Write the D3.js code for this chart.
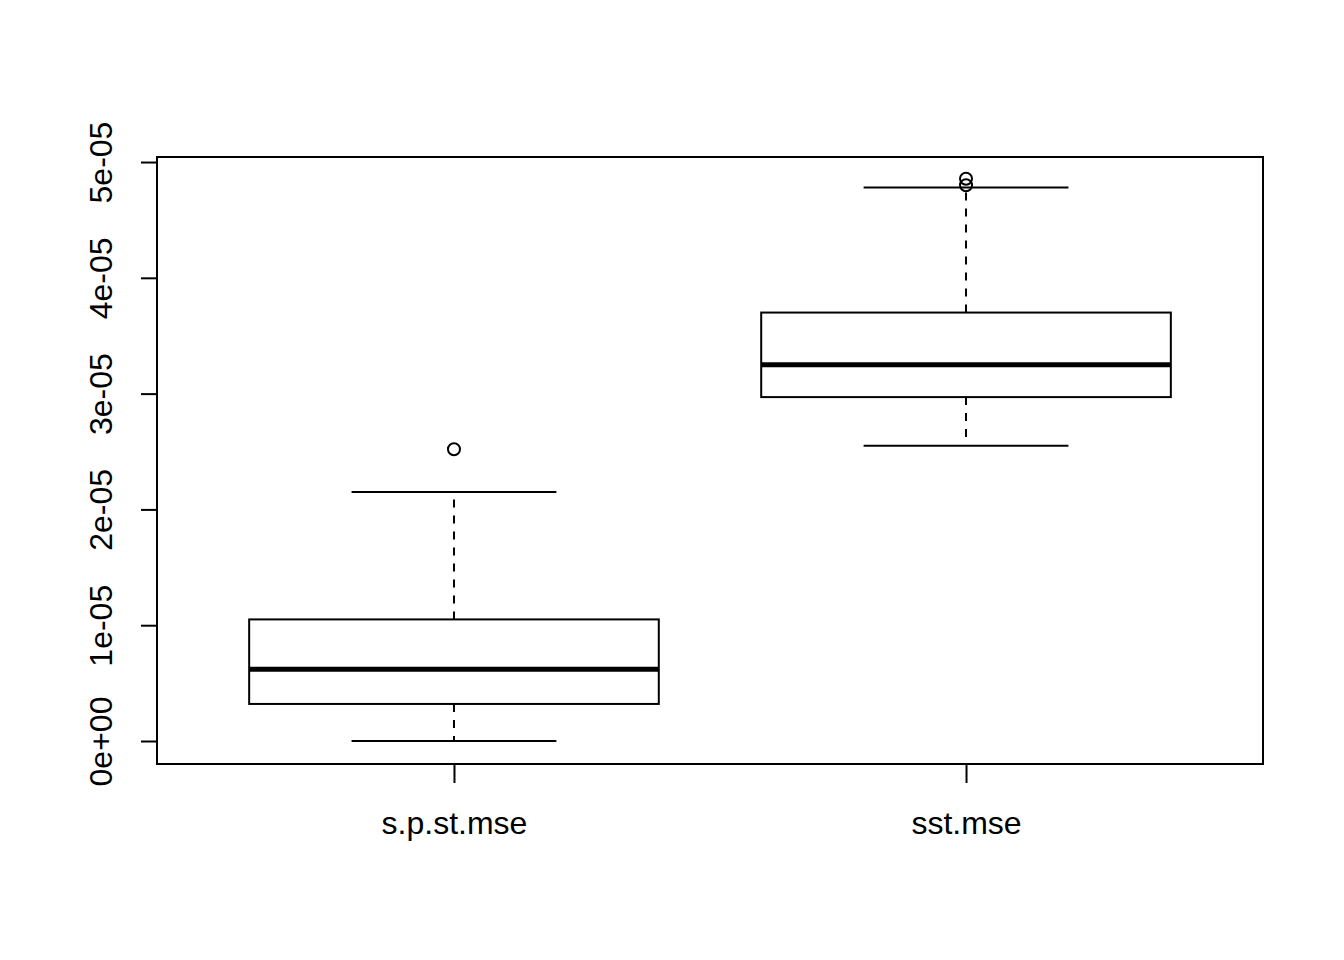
<!DOCTYPE html>
<html>
<head>
<meta charset="utf-8">
<script src="https://cdn.jsdelivr.net/npm/d3@7"></script>
<style>
  html, body { margin: 0; padding: 0; background: #ffffff; }
  svg { display: block; }
  text { font-family: "Liberation Sans", Arial, sans-serif; fill: #000; }
</style>
</head>
<body>
<svg id="chart" width="1344" height="960"></svg>
<script>
// ---- data ----
const categories = ["s.p.st.mse", "sst.mse"];
const whiskerLow  = [0.00e-05, 2.55e-05];
const q1          = [0.32e-05, 2.97e-05];
const median      = [0.62e-05, 3.25e-05];
const q3          = [1.05e-05, 3.70e-05];
const whiskerHigh = [2.15e-05, 4.78e-05];
const outliers    = [[2.52e-05], [4.80e-05, 4.855e-05]];
const yTicks      = [0, 1e-05, 2e-05, 3e-05, 4e-05, 5e-05];
const yTickLabels = ["0e+00", "1e-05", "2e-05", "3e-05", "4e-05", "5e-05"];

const svg = d3.select("#chart");
const plot = { left: 157, right: 1263, top: 157, bottom: 764 };

const x = d3.scaleLinear().domain([0.42, 2.58]).range([plot.left, plot.right]);
const y = d3.scaleLinear().domain([-0.1986e-05, 5.0434e-05]).range([plot.bottom, plot.top]);

const boxHalf = 0.4, capHalf = 0.2;

const data = categories.map((c, i) => ({
  name: c, pos: i + 1,
  lo: whiskerLow[i], q1: q1[i], med: median[i], q3: q3[i], hi: whiskerHigh[i], out: outliers[i]
}));

const g = svg.append("g");

data.forEach(d => {
  const gg = g.append("g");
  // whiskers (dashed)
  gg.append("line").attr("x1", x(d.pos)).attr("x2", x(d.pos))
    .attr("y1", y(d.q3)).attr("y2", y(d.hi))
    .attr("stroke", "#000").attr("stroke-width", 2).attr("stroke-dasharray", "8,8");
  gg.append("line").attr("x1", x(d.pos)).attr("x2", x(d.pos))
    .attr("y1", y(d.q1)).attr("y2", y(d.lo))
    .attr("stroke", "#000").attr("stroke-width", 2).attr("stroke-dasharray", "8,8");
  // caps
  [d.lo, d.hi].forEach(v => {
    gg.append("line").attr("x1", x(d.pos - capHalf)).attr("x2", x(d.pos + capHalf))
      .attr("y1", y(v)).attr("y2", y(v))
      .attr("stroke", "#000").attr("stroke-width", 2);
  });
  // box
  gg.append("rect").attr("x", x(d.pos - boxHalf)).attr("y", y(d.q3))
    .attr("width", x(d.pos + boxHalf) - x(d.pos - boxHalf))
    .attr("height", y(d.q1) - y(d.q3))
    .attr("fill", "none").attr("stroke", "#000").attr("stroke-width", 2);
  // median
  gg.append("line").attr("x1", x(d.pos - boxHalf)).attr("x2", x(d.pos + boxHalf))
    .attr("y1", y(d.med)).attr("y2", y(d.med))
    .attr("stroke", "#000").attr("stroke-width", 5);
  // outliers
  gg.selectAll("circle.out").data(d.out).enter().append("circle")
    .attr("cx", x(d.pos)).attr("cy", v => y(v)).attr("r", 6)
    .attr("fill", "none").attr("stroke", "#000").attr("stroke-width", 2);
});

// plot frame
svg.append("rect").attr("x", plot.left).attr("y", plot.top)
  .attr("width", plot.right - plot.left).attr("height", plot.bottom - plot.top)
  .attr("fill", "none").attr("stroke", "#000").attr("stroke-width", 2);

// y axis
const yAxis = d3.axisLeft(y).tickValues(yTicks)
  .tickFormat((d, i) => yTickLabels[i]).tickSize(16).tickSizeOuter(0);
const ya = svg.append("g").attr("transform", `translate(${plot.left},0)`).call(yAxis);
ya.select(".domain").remove();
ya.selectAll(".tick line").attr("stroke", "#000").attr("stroke-width", 2);
ya.selectAll(".tick text")
  .attr("font-size", 32)
  .attr("font-family", "'Liberation Sans', Arial, sans-serif")
  .attr("x", 0).attr("dy", 0)
  .attr("text-anchor", "middle")
  .attr("transform", "translate(-45,0) rotate(-90)");

// x axis
const xAxis = d3.axisBottom(x).tickValues([1, 2])
  .tickFormat((d) => categories[d - 1]).tickSize(19).tickSizeOuter(0);
const xa = svg.append("g").attr("transform", `translate(0,${plot.bottom})`).call(xAxis);
xa.select(".domain").remove();
xa.selectAll(".tick line").attr("stroke", "#000").attr("stroke-width", 2);
xa.selectAll(".tick text")
  .attr("font-size", 32)
  .attr("font-family", "'Liberation Sans', Arial, sans-serif")
  .attr("y", 70).attr("dy", 0);
</script>
</body>
</html>
